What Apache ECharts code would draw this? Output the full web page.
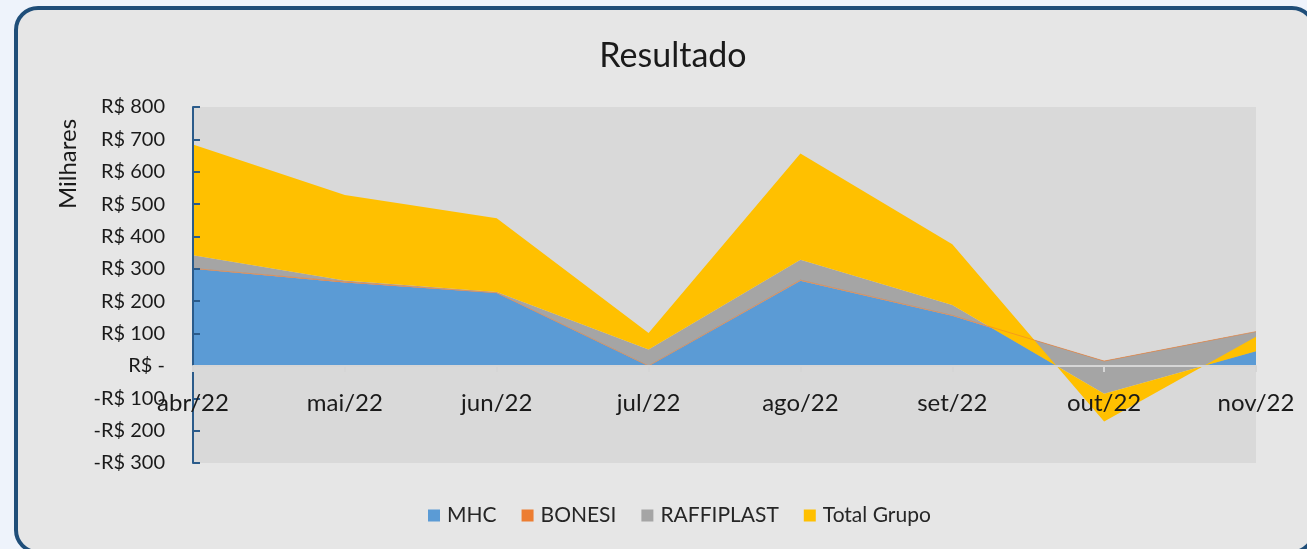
<!DOCTYPE html>
<html>
<head>
<meta charset="utf-8">
<script src="https://cdn.jsdelivr.net/npm/echarts@6/dist/echarts.min.js"></script>
<style>
  html, body { margin: 0; padding: 0; background: #eef3fb; }
  #card {
    position: absolute; left: 14px; top: 6px; width: 1302px; height: 548px;
    box-sizing: border-box; border: 4px solid #1f4e79; border-radius: 24px;
    background: #e6e6e6;
  }
  #chart { position: absolute; left: 0; top: 0; width: 1307px; height: 549px; }
</style>
</head>
<body>
<div id="card"></div>
<div id="chart"></div>
<script>
const months = ["abr/22", "mai/22", "jun/22", "jul/22", "ago/22", "set/22", "out/22", "nov/22"];
const mhc = [300, 258, 225, 0, 263, 155, 10, 100];
const bonesi = [1, 2, 1, 0, 2, 1, 5, 6];
const raffiplast = [41, 4, 2, 51, 63, 32, -101, -61];
const totalGrupo = [342, 264, 228, 51, 328, 188, -86, 45];

const font = "Lato, 'Open Sans', sans-serif";

function areaSeries(name, data, color, line) {
  return {
    name: name,
    type: "line",
    stack: "total",
    stackStrategy: "all",
    data: data,
    showSymbol: false,
    symbol: "none",
    lineStyle: line,
    itemStyle: { color: color },
    areaStyle: { color: color, opacity: 1 },
    emphasis: { disabled: true }
  };
}

const chart = echarts.init(document.getElementById("chart"));
chart.setOption({
  animation: false,
  backgroundColor: "transparent",
  textStyle: { fontFamily: font },
  title: {
    text: "Resultado",
    left: 668,
    textAlign: "center",
    top: 34,
    textStyle: { fontSize: 34, fontWeight: "normal", color: "#1a1a1a", fontFamily: font }
  },
  graphic: [
    {
      type: "text",
      x: 68,
      y: 164,
      rotation: Math.PI / 2,
      style: {
        text: "Milhares",
        fontSize: 24,
        fontFamily: font,
        fill: "#1a1a1a",
        textAlign: "center",
        textVerticalAlign: "middle"
      }
    }
  ],
  legend: {
    bottom: 18,
    left: 423,
    itemWidth: 12,
    itemHeight: 12,
    itemGap: 25,
    icon: "rect",
    textStyle: { fontSize: 21, color: "#262626", fontFamily: font, padding: [0, 0, 0, 2] },
    data: ["MHC", "BONESI", "RAFFIPLAST", "Total Grupo"]
  },
  grid: {
    left: 193,
    right: 51,
    top: 107,
    bottom: 86,
    show: true,
    backgroundColor: "#d9d9d9",
    borderWidth: 0
  },
  xAxis: {
    type: "category",
    data: months,
    boundaryGap: false,
    z: 50,
    offset: -97,
    axisLine: { show: true, onZero: false, lineStyle: { color: "#d6d6d6", width: 2 } },
    axisTick: { show: true, length: 6, lineStyle: { color: "#d6d6d6", width: 2 } },
    axisLabel: { fontSize: 24, color: "#1a1a1a", margin: 25, fontFamily: font }
  },
  yAxis: {
    type: "value",
    min: -300,
    max: 800,
    interval: 100,
    z: 10,
    splitLine: { show: false },
    axisLine: { show: true, onZero: false, lineStyle: { color: "#2b5b8a", width: 2 } },
    axisTick: { show: true, inside: true, length: 7, lineStyle: { color: "#2b5b8a", width: 2 } },
    axisLabel: {
      fontSize: 20,
      color: "#1a1a1a",
      margin: 28,
      fontFamily: font,
      formatter: function (v) {
        if (v === 0) return "R$ -";
        if (v < 0) return "-R$ " + Math.abs(v);
        return "R$ " + v;
      }
    }
  },
  series: [
    areaSeries("MHC", mhc, "#5b9bd5", { width: 0 }),
    areaSeries("BONESI", bonesi, "#ed7d31", { width: 1, color: "#ed7d31", opacity: 0.55 }),
    areaSeries("RAFFIPLAST", raffiplast, "#a5a5a5", { width: 0 }),
    areaSeries("Total Grupo", totalGrupo, "#ffc000", { width: 0 })
  ]
});
</script>
</body>
</html>
